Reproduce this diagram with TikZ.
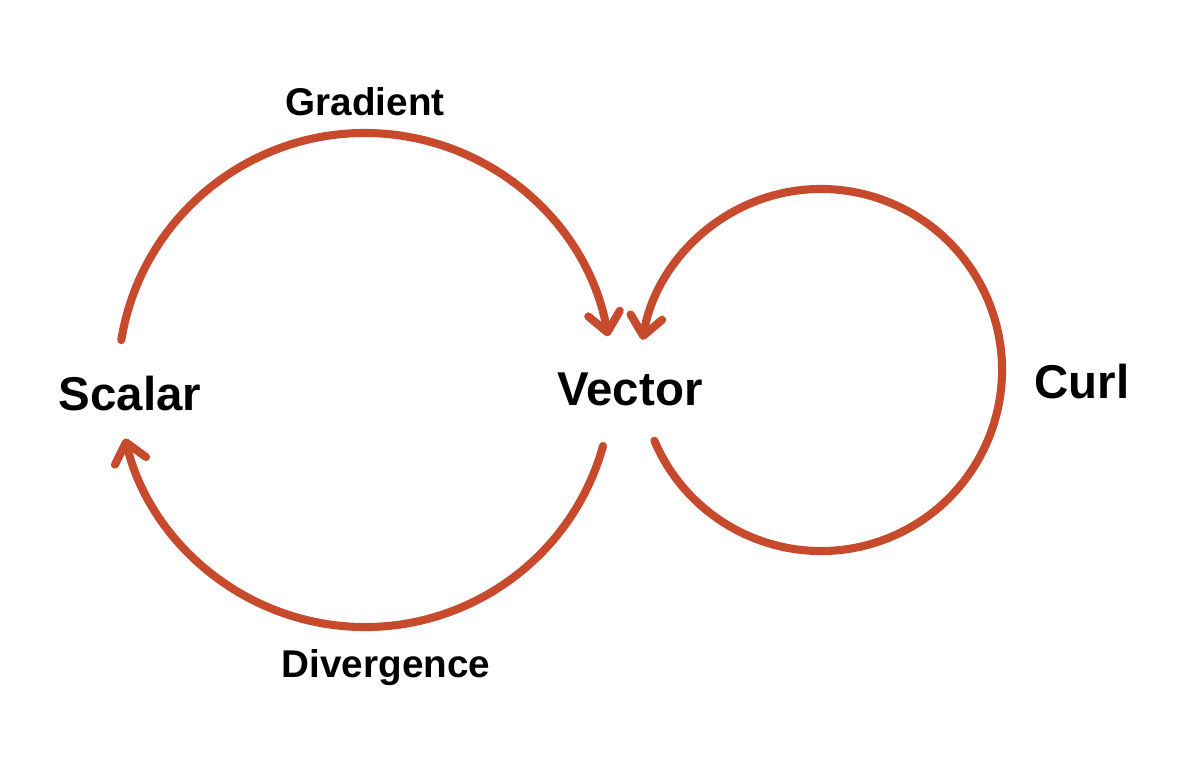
\documentclass[tikz,border=0pt]{standalone}
\usepackage{fontspec}
\setmainfont{Liberation Sans}
\usetikzlibrary{arrows.meta,positioning,calc}
\definecolor{rust}{RGB}{200,74,44}
\tikzset{every picture/.style={line width=0.75pt}}

\begin{document}
\begin{tikzpicture}[font=\bfseries,
    flow/.style={draw=rust, line width=4.6pt, line cap=round,
      -{Straight Barb[length=3.8mm, width=6.4mm, round]}},
    big/.style={font=\fontsize{27}{30}\selectfont\bfseries, anchor=base},
    small/.style={font=\fontsize{22}{25}\selectfont\bfseries, anchor=base}]
    \useasboundingbox (0,0) rectangle (24,15.26);

    % the three words
    \node[big] (Scalar) at (2.6,7.06) {Scalar};
    \node[big] (Vector) at (12.6,7.16) {Vector};
    \node[big] (Curl) at (21.64,7.3) {Curl};
    \node[small] (Gradient) at (7.3,12.94) {Gradient};
    \node[small] (Divergence) at (7.72,1.72) {Divergence};

    % centres of the two loops
    \coordinate (big loop) at (7.3,7.66);
    \coordinate (small loop) at (16.42,7.86);

    \draw[flow] ($(big loop)+(170.7:4.94)$) arc[start angle=170.7, end angle=10.2, radius=4.94];
    \draw[flow] ($(big loop)+(-15.5:4.94)$) arc[start angle=-15.5, end angle=-166.3, radius=4.94];
    \draw[flow] ($(small loop)+(203:3.62)$) arc[start angle=203, end angle=530.4, radius=3.62];
\end{tikzpicture}
\end{document}
